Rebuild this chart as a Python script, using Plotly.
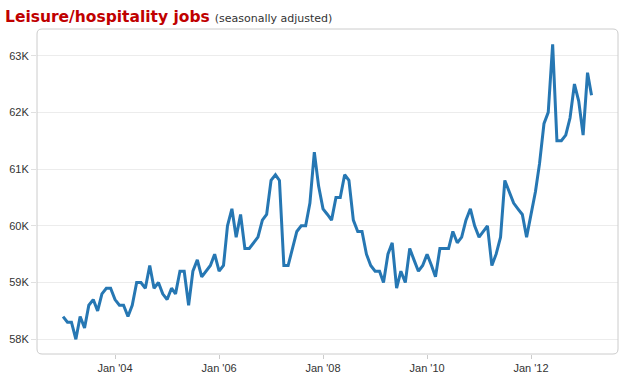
import pandas as pd
import plotly.graph_objects as go

# Monthly values, thousands of jobs, Jan 2003 .. Mar 2013
start_month = "2003-01-01"
jobs_k = [
    58.4, 58.3, 58.3, 58.0, 58.4, 58.2, 58.6, 58.7, 58.5, 58.8, 58.9, 58.9,   # 2003
    58.7, 58.6, 58.6, 58.4, 58.6, 59.0, 59.0, 58.9, 59.3, 58.9, 59.0, 58.8,   # 2004
    58.7, 58.9, 58.8, 59.2, 59.2, 58.6, 59.2, 59.4, 59.1, 59.2, 59.3, 59.5,   # 2005
    59.2, 59.3, 60.0, 60.3, 59.8, 60.2, 59.6, 59.6, 59.7, 59.8, 60.1, 60.2,   # 2006
    60.8, 60.9, 60.8, 59.3, 59.3, 59.6, 59.9, 60.0, 60.0, 60.4, 61.3, 60.7,   # 2007
    60.3, 60.2, 60.1, 60.5, 60.5, 60.9, 60.8, 60.1, 59.9, 59.9, 59.5, 59.3,   # 2008
    59.2, 59.2, 59.0, 59.5, 59.7, 58.9, 59.2, 59.0, 59.6, 59.4, 59.2, 59.3,   # 2009
    59.5, 59.3, 59.1, 59.6, 59.6, 59.6, 59.9, 59.7, 59.8, 60.1, 60.3, 60.0,   # 2010
    59.8, 59.9, 60.0, 59.3, 59.5, 59.8, 60.8, 60.6, 60.4, 60.3, 60.2, 59.8,   # 2011
    60.2, 60.6, 61.1, 61.8, 62.0, 63.2, 61.5, 61.5, 61.6, 61.9, 62.5, 62.2,   # 2012
    61.6, 62.7, 62.3,                                                         # 2013
]
months = pd.date_range(start_month, periods=len(jobs_k), freq="MS")

y_ticks = [58, 59, 60, 61, 62, 63]
y_tick_labels = ["58K", "59K", "60K", "61K", "62K", "63K"]
x_tick_dates = ["2004-01-01", "2006-01-01", "2008-01-01", "2010-01-01", "2012-01-01"]
x_tick_labels = ["Jan '04", "Jan '06", "Jan '08", "Jan '10", "Jan '12"]

title_main = "Leisure/hospitality jobs"
title_sub = "(seasonally adjusted)"

fig = go.Figure()
fig.add_trace(go.Scatter(
    x=months, y=jobs_k, mode="lines",
    line=dict(color="#2677b3", width=3),
    hoverinfo="x+y",
))

W, H = 624, 379
ml, mr, mt, mb = 37, 6, 29, 25
pw, ph = W - ml - mr, H - mt - mb
rx, ry = 5 / pw, 5 / ph
frame = (f"M {rx} 0 L {1-rx} 0 Q 1 0 1 {ry} L 1 {1-ry} Q 1 1 {1-rx} 1 "
         f"L {rx} 1 Q 0 1 0 {1-ry} L 0 {ry} Q 0 0 {rx} 0 Z")

fig.update_layout(
    width=W, height=H,
    margin=dict(l=ml, r=mr, t=mt, b=mb),
    paper_bgcolor="white", plot_bgcolor="white",
    showlegend=False,
    font=dict(family="Liberation Sans, Arial, sans-serif", size=11, color="#333333"),
    title=dict(
        text=(f"<b>{title_main}</b> "
              f"<span style='font-size:11px;color:#333333;font-weight:normal'>{title_sub}</span>"),
        font=dict(family="DejaVu Sans, Verdana, sans-serif", size=15.5, color="#c00000"),
        x=5 / W, xanchor="left", xref="container",
        y=1 - 17 / H, yanchor="middle", yref="container",
    ),
    shapes=[dict(type="path", path=frame, xref="paper", yref="paper",
                 line=dict(color="#cccccc", width=1), layer="above")],
    xaxis=dict(
        range=["2002-07-02", "2013-09-03"],
        tickvals=x_tick_dates, ticktext=x_tick_labels,
        showgrid=False, zeroline=False, showline=False,
        ticks="outside", ticklen=4, tickcolor="#cccccc",
    ),
    yaxis=dict(
        range=[57.74, 63.47],
        tickvals=y_ticks, ticktext=y_tick_labels,
        showgrid=True, gridcolor="#ececec", gridwidth=1,
        zeroline=False, showline=False,
        ticks="outside", ticklen=5, tickcolor="#e0e0e0",
    ),
)

fig.write_html(
    "out.html",
    config={"displayModeBar": False},
    post_script="document.body.style.margin='0';document.body.style.padding='0';",
)
